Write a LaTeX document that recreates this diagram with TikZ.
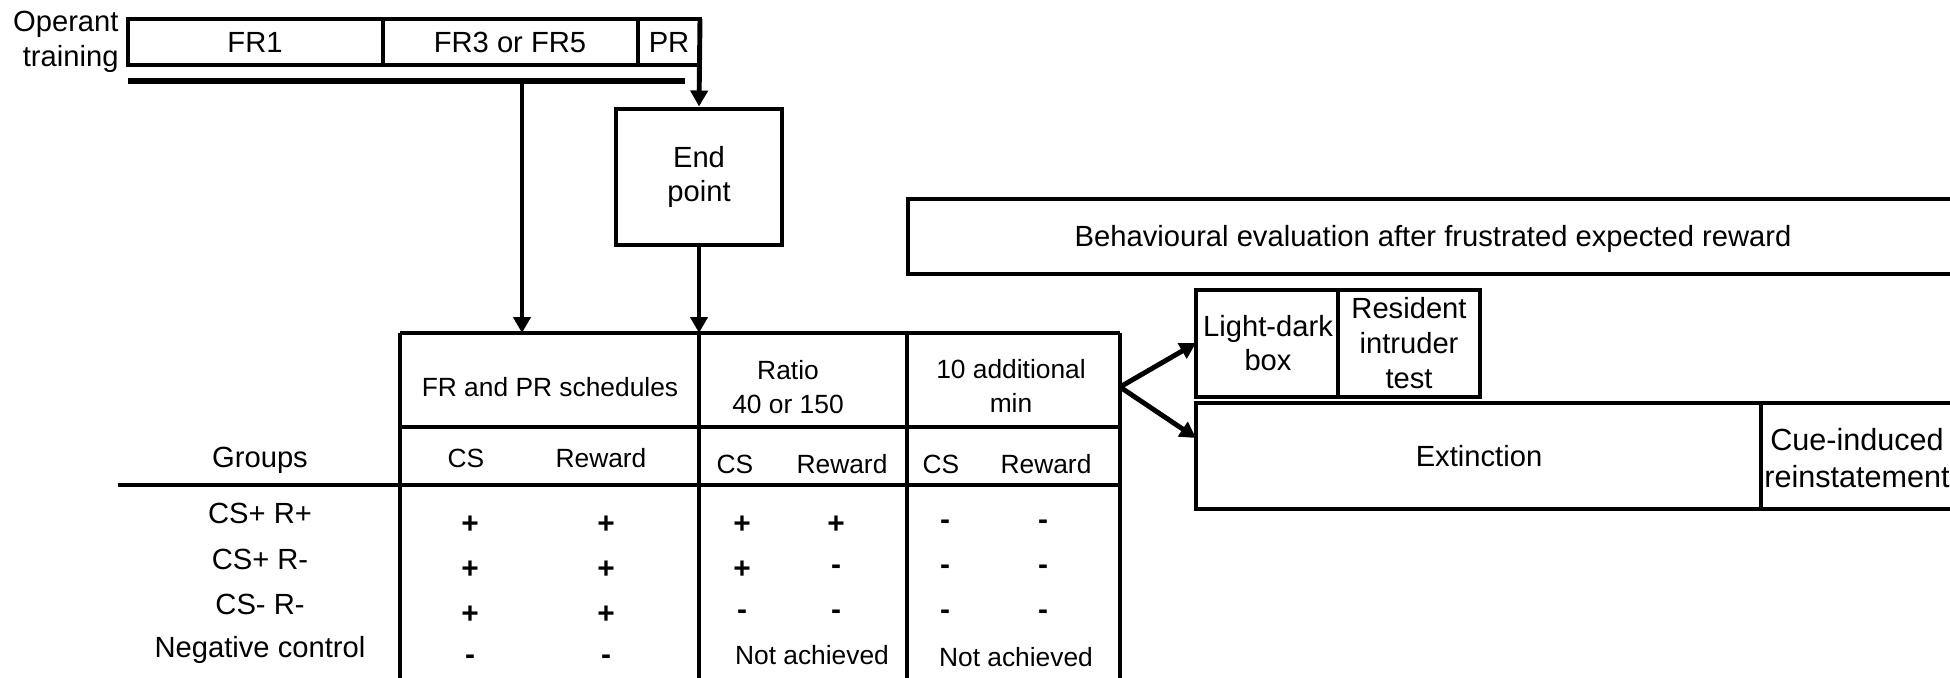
\documentclass[tikz,border=0pt]{standalone}
\usepackage{fontspec}
\setmainfont{Liberation Sans}
\usetikzlibrary{arrows.meta}
\tikzset{
  lbl/.style={align=center, inner sep=0pt},
  big/.style={font=\fontsize{8.3}{9.9}\selectfont},
  sign/.style={inner sep=0pt, font=\fontsize{8.5}{9.9}\selectfont\bfseries},
  arr/.style={-{Triangle[length=1.6mm, width=1.7mm]}}
}
\begin{document}
\begin{tikzpicture}[x=0.1mm, y=-0.1mm, line width=1.4pt, font=\fontsize{7.5}{9.7}\selectfont]
\useasboundingbox (0,0) rectangle (1950,678);
\clip (0,0) rectangle (1950,678);
\fill[white] (0,0) rectangle (1950,678);
\node[lbl, big, align=right, anchor=east] (operant) at (121,42) {Operant\\training};
\draw (128,19) rectangle (700,65);
\draw (383,19) -- (383,65);
\draw (638,19) -- (638,65);
\node[lbl, big] (fr1) at (255,42) {FR1};
\node[lbl, big] (fr35) at (510,42) {FR3 or FR5};
\node[lbl, big] (pr) at (669,42) {PR};
\draw[line width=1.6pt] (128,81) -- (685,81);
\coordinate (train) at (522,81);
\coordinate (prtop) at (700,19);
\node[draw, lbl, big, minimum width=16.6mm, minimum height=13.6mm] (endpt) at (699,177) {End\\point};
\coordinate (schedtop) at (522,333);
\coordinate (ratiotop) at (699,333);
\draw[arr] (prtop) -- (endpt.north);
\draw[arr] (train) -- (schedtop);
\draw[arr] (endpt.south) -- (ratiotop);
\draw (400,333) -- (1120,333);
\draw (400,427) -- (1120,427);
\draw (118,485) -- (1120,485);
\draw (400,333) -- (400,678);
\draw (699,333) -- (699,678);
\draw (907,333) -- (907,678);
\draw (1120,333) -- (1120,678);
\node[lbl] (hsched) at (550,387) {FR and PR schedules};
\node[lbl] (hratio) at (788,387) {Ratio\\40 or 150};
\node[lbl] (hmin) at (1011,386) {10 additional\\min};
\node[lbl] (cs1) at (466,458) {CS};
\node[lbl] (rw1) at (601,458) {Reward};
\node[lbl] (cs2) at (735,464) {CS};
\node[lbl] (rw2) at (842,464) {Reward};
\node[lbl] (cs3) at (941,464) {CS};
\node[lbl] (rw3) at (1046,464) {Reward};
\node[lbl, big] (groups) at (260,460) {Groups};
\node[lbl, big] (g1) at (260,513) {CS+ R+};
\node[lbl, big] (g2) at (260,559) {CS+ R-};
\node[lbl, big] (g3) at (260,604) {CS- R-};
\node[lbl, big] (g4) at (260,650) {Negative control};
\foreach \y/\a/\b/\c/\d/\e/\f in {525/+/+/+/+/-/-, 570/+/+/+/-/-/-, 615/+/+/-/-/-/-}{
  \node[sign] at (470,\y) {\a};
  \node[sign] at (606,\y) {\b};
  \node[sign] at (742,\y) {\c};
  \node[sign] at (836,\y) {\d};
  \node[sign] at (945,\y) {\e};
  \node[sign] at (1043,\y) {\f};
}
\node[sign] at (470,660) {-};
\node[sign] at (606,660) {-};
\node[lbl] (na2) at (812,655) {Not achieved};
\node[lbl] (na3) at (1016,657) {Not achieved};
\draw (908,199) rectangle (1960,274);
\node[lbl, big] (behav) at (1433,239) {Behavioural evaluation after frustrated expected reward};
\draw (1196,290) rectangle (1338,397);
\draw (1338,290) rectangle (1480,397);
\node[lbl, big] (ldbox) at (1268,343) {Light-dark\\box};
\node[lbl, big] (resid) at (1409,343) {Resident\\intruder\\test};
\draw (1196,403) rectangle (1761,509);
\draw (1761,403) rectangle (1960,509);
\node[lbl, big] (extinct) at (1479,456) {Extinction};
\node[lbl, font=\fontsize{8.7}{10.3}\selectfont] (cue) at (1857,458) {Cue-induced\\reinstatement};
\coordinate (split) at (1120,387);
\coordinate (ldin) at (1196,343);
\coordinate (exin) at (1196,438);
\draw[arr] (split) -- (ldin);
\draw[arr] (split) -- (exin);
\end{tikzpicture}
\end{document}
